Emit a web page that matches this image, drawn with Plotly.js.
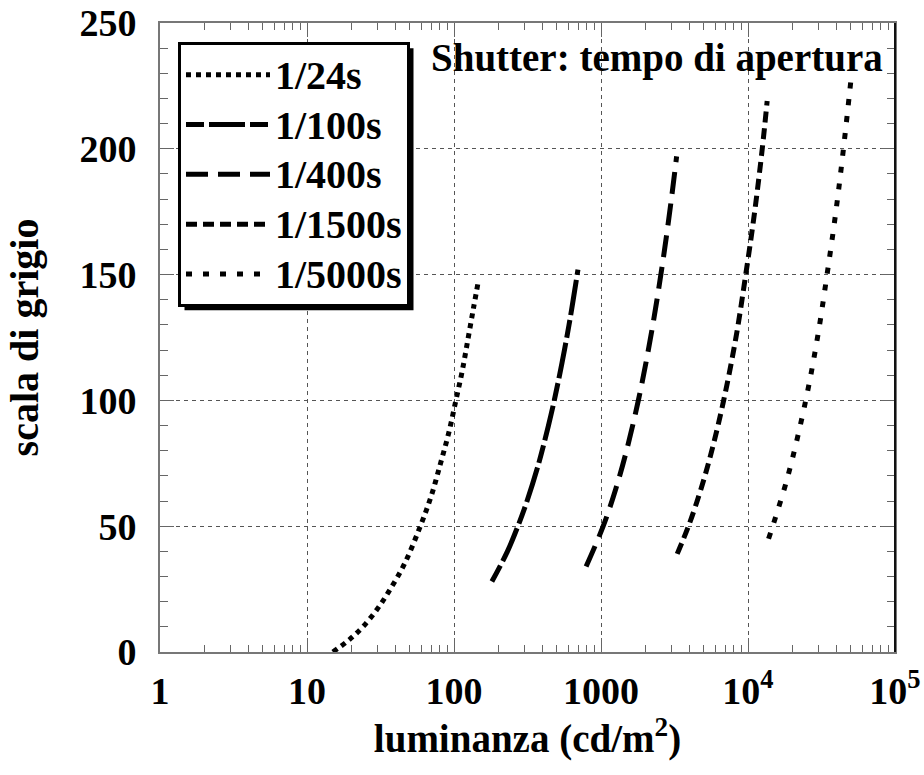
<!DOCTYPE html>
<html><head><meta charset="utf-8">
<script src="https://cdn.plot.ly/plotly-3.0.1.min.js"></script>
<style>html,body{margin:0;padding:0;background:#fff}</style>
</head><body>
<div id="chart" style="width:924px;height:775px"></div>
<script>
// Series names (legend)
const seriesNames = ["1/24s", "1/100s", "1/400s", "1/1500s", "1/5000s"];

// luminance (cd/m^2) and gray level
const lum24   = [15, 19.5, 24, 30, 36, 46, 59, 70, 81, 92, 103, 114, 125, 136, 146];
const gray24  = [0, 5, 10, 17, 24, 35, 50, 62, 75, 87, 100, 112, 125, 137, 147];

const lum100  = [181, 231, 272, 314, 377, 439, 481, 543, 606, 647, 697];
const gray100 = [28, 40, 50, 60, 75, 90, 100, 115, 130, 140, 152];

const lum400  = [792, 1035, 1263, 1491, 1795, 2099, 2403, 2707, 3011, 3269];
const gray400 = [34, 50, 65, 80, 100, 120, 140, 160, 180, 197];

const lum1500  = [3300, 3935, 4800, 5670, 6830, 8280, 9650, 11100, 12500, 13500];
const gray1500 = [39, 50, 65, 80, 100, 125, 150, 175, 200, 219];

const lum5000  = [13800, 14720, 18700, 24700, 29700, 34500, 39600, 44600, 50700];
const gray5000 = [45, 50, 70, 100, 125, 150, 175, 200, 230];

// axis ticks
const xTickVals = [1, 10, 100, 1000, 10000, 100000];
const xTickText = ["1", "10", "100", "1000", "10<sup>4</sup>", "10<sup>5</sup>"];
const yTickVals = [0, 50, 100, 150, 200, 250];

const lumSets  = [lum24, lum100, lum400, lum1500, lum5000];
const graySets = [gray24, gray100, gray400, gray1500, gray5000];
const dashes = ["5px,5px", "18px,5px,36px,5px", "22px,10px", "11px,6px", "6px,11px"];

const FONT = "Liberation Serif, Times New Roman, serif";

const traces = seriesNames.map((name, i) => ({
  type: "scatter",
  mode: "lines",
  name: '<span style="font-size:40px">' + name + '</span>',
  x: lumSets[i],
  y: graySets[i],
  line: { color: "#000", width: 5, dash: dashes[i], shape: "spline" },
  hoverinfo: "skip"
}));

const layout = {
  width: 924, height: 775,
  margin: { l: 160, r: 29, t: 23, b: 123 },
  paper_bgcolor: "#fff", plot_bgcolor: "#fff",
  font: { family: FONT, color: "#000", size: 38, weight: 700 },
  showlegend: true,
  legend: {
    x: 0.0245, y: 0.97, xanchor: "left", yanchor: "top",
    bgcolor: "#fff", bordercolor: "#000", borderwidth: 3,
    font: { family: FONT, size: 36, color: "#000", weight: 700 },
    itemwidth: 84, tracegroupgap: 0
  },
  xaxis: {
    type: "log", range: [0, 5],
    tickmode: "array", tickvals: xTickVals, ticktext: xTickText,
    ticks: "inside", ticklen: 14, tickwidth: 1, tickcolor: "#666",
    minor: { dtick: "D1", ticks: "inside", ticklen: 7, tickcolor: "#666", showgrid: false },
    showline: true, linecolor: "#777", linewidth: 2, mirror: "allticks",
    showgrid: true, gridcolor: "#555", gridwidth: 1, griddash: "4px,4px",
    zeroline: false,
    tickfont: { family: FONT, size: 38, color: "#000", weight: 700 },
    ticklabelstandoff: 4,
    title: { text: "luminanza (cd/m<sup>2</sup>)", standoff: 0,
             font: { family: FONT, size: 39, color: "#000", weight: 700 } }
  },
  yaxis: {
    range: [0, 250],
    tickmode: "array", tickvals: yTickVals,
    ticks: "inside", ticklen: 14, tickwidth: 1, tickcolor: "#666",
    minor: { dtick: 10, ticks: "inside", ticklen: 8, tickcolor: "#666", showgrid: false },
    showline: true, linecolor: "#777", linewidth: 2, mirror: "allticks",
    showgrid: true, gridcolor: "#555", gridwidth: 1, griddash: "4px,4px",
    zeroline: false,
    tickfont: { family: FONT, size: 38, color: "#000", weight: 700 },
    ticklabelstandoff: 14,
    title: { text: "scala di grigio", standoff: 28,
             font: { family: FONT, size: 40, color: "#000", weight: 700 } }
  },
  annotations: [{
    xref: "paper", yref: "paper", x: 0.987, y: 0.944,
    xanchor: "right", yanchor: "middle", showarrow: false,
    text: "Shutter: tempo di apertura",
    font: { family: FONT, size: 39, color: "#000", weight: 700 }
  }]
};

Plotly.newPlot("chart", traces, layout, { displayModeBar: false, staticPlot: true }).then(gd => {
  const bg = gd.querySelector(".legend .bg");
  if (!bg) return;
  const fl = gd._fullLayout;
  const r = bg.getBoundingClientRect();
  const host = gd.getBoundingClientRect();
  const off = 5;
  const px2x = p => (p - host.left - fl.margin.l) / fl._size.w;
  const px2y = p => 1 - (p - host.top - fl.margin.t) / fl._size.h;
  Plotly.relayout(gd, {
    shapes: [{
      type: "rect", xref: "paper", yref: "paper", layer: "above",
      x0: px2x(r.left + off), x1: px2x(r.right + off),
      y0: px2y(r.bottom + off), y1: px2y(r.top + off),
      fillcolor: "#000", line: { width: 0 }
    }, {
      type: "line", xref: "paper", yref: "paper", layer: "above",
      x0: 1, x1: 1, y0: 0, y1: 1,
      line: { color: "#111", width: 2 }
    }]
  });
});
</script>
</body></html>
